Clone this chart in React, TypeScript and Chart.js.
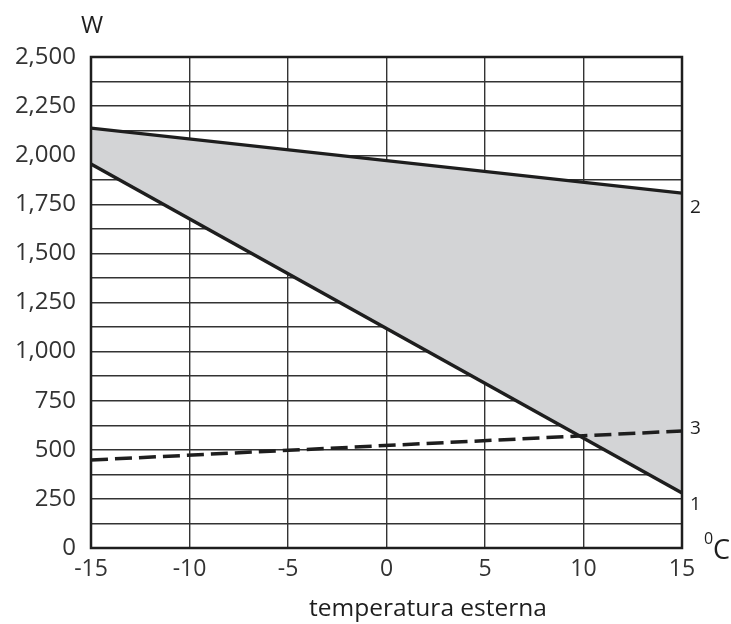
import React, { useEffect, useRef } from "react";
import { Chart, registerables } from "chart.js";

Chart.register(...registerables);

const temps = [-15, 15];
const line2 = [2138, 1807];
const line1 = [1955, 280];
const line3 = [448, 596];
const yTickStep = 125;
const xTickStep = 5;
const seriesLabels = ["2", "1", "3"];
const yUnit = "W";
const xUnit = "C";
const xTitle = "temperatura esterna";

const FONT = "'Open Sans', 'DejaVu Sans', sans-serif";
const INK = "#1e1e1e";

const textPlugin = {
  id: "texts",
  afterDraw(chart: any) {
    const { ctx, chartArea, scales } = chart;
    const xs = scales.x;
    const ys = scales.y;
    ctx.save();
    // frame
    ctx.strokeStyle = INK;
    ctx.lineWidth = 2.5;
    ctx.strokeRect(chartArea.left, chartArea.top, chartArea.right - chartArea.left, chartArea.bottom - chartArea.top);
    ctx.fillStyle = INK;
    // W
    ctx.font = `24px ${FONT}`;
    ctx.textAlign = "center";
    ctx.textBaseline = "middle";
    ctx.fillText(yUnit, chartArea.left + 1, 26);
    // degree C
    ctx.textAlign = "left";
    ctx.font = `16px ${FONT}`;
    ctx.fillText("0", chartArea.right + 22, 539);
    ctx.font = `27px ${FONT}`;
    ctx.fillText(xUnit, chartArea.right + 31, 551);
    // series numbers
    ctx.font = `19px ${FONT}`;
    const ends = [line2[1], line1[1], line3[1]];
    const offs = [14, 12, -2];
    seriesLabels.forEach((l, i) => {
      ctx.fillText(l, xs.getPixelForValue(temps[1]) + 8, ys.getPixelForValue(ends[i]) + offs[i]);
    });
    // x title
    ctx.font = `24.5px ${FONT}`;
    ctx.textAlign = "center";
    ctx.fillText(xTitle, 428, 609);
    ctx.restore();
  },
};

export default function App() {
  const ref = useRef<HTMLCanvasElement | null>(null);
  useEffect(() => {
    if (!ref.current) return;
    const mk = (ys: number[]) => temps.map((x, i) => ({ x, y: ys[i] }));
    const chart = new Chart(ref.current, {
      type: "line",
      data: {
        datasets: [
          {
            label: "2",
            data: mk(line2),
            borderColor: INK,
            borderWidth: 3.3,
            pointRadius: 0,
            fill: "+1",
            backgroundColor: "#d3d4d6",
          },
          {
            label: "1",
            data: mk(line1),
            borderColor: INK,
            borderWidth: 3.3,
            pointRadius: 0,
            fill: false,
          },
          {
            label: "3",
            data: mk(line3),
            borderColor: INK,
            borderWidth: 3.5,
            borderDash: [17, 7],
            pointRadius: 0,
            fill: false,
          },
        ],
      },
      options: {
        animation: false,
        responsive: false,
        maintainAspectRatio: false,
        layout: { padding: { top: 57, right: 49, left: 0, bottom: 0 } },
        plugins: {
          legend: { display: false },
          tooltip: { enabled: false },
          filler: { drawTime: "beforeDatasetsDraw" },
        },
        scales: {
          x: {
            type: "linear",
            min: -15,
            max: 15,
            afterFit: (s: any) => {
              s.height = 76;
            },
            ticks: {
              stepSize: xTickStep,
              color: "#333",
              font: { family: FONT, size: 23 },
              padding: 8,
            },
            grid: { color: "#333", lineWidth: 1.4, drawTicks: false },
            border: { display: false },
          },
          y: {
            min: 0,
            max: 2500,
            afterFit: (s: any) => {
              s.width = 91;
            },
            ticks: {
              stepSize: yTickStep,
              color: "#333",
              font: { family: FONT, size: 24 },
              padding: 15,
              autoSkip: false,
              callback: (v: any) => (Number(v) % 250 === 0 ? Number(v).toLocaleString("en-US") : ""),
            },
            grid: { color: "#333", lineWidth: 1.4, drawTicks: false },
            border: { display: false },
          },
        },
      },
      plugins: [textPlugin],
    } as any);
    return () => chart.destroy();
  }, []);
  return (
    <div style={{ position: "absolute", left: 0, top: 0, width: 731, height: 624, background: "#fff" }}>
      <canvas ref={ref} width={731} height={624} style={{ width: 731, height: 624 }} />
    </div>
  );
}
